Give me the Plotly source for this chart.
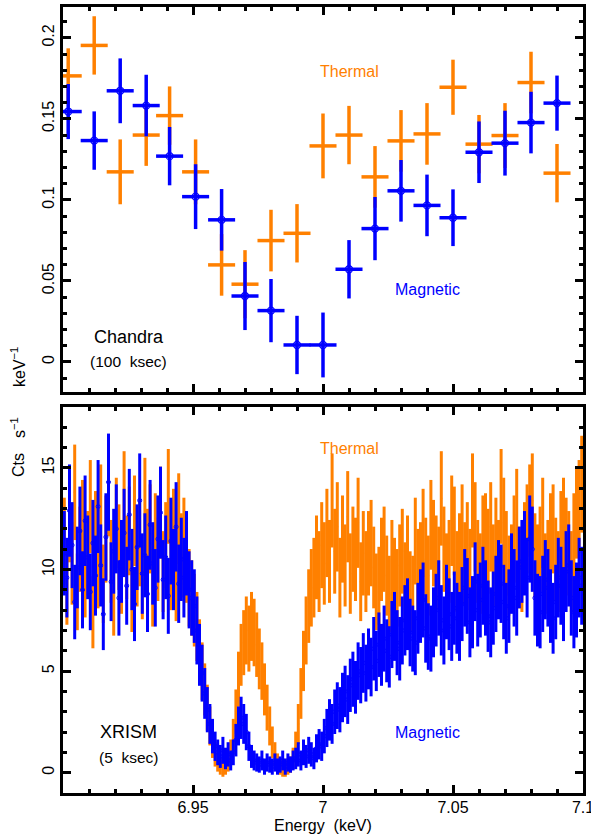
import numpy as np
import plotly.graph_objects as go

ORANGE = "#FF8000"
BLUE = "#0000FF"
FONT = "Liberation Sans, Arial, Helvetica, sans-serif"

# ---------------- Chandra (100 ksec) ----------------
chandra_energy_keV = [6.902, 6.912, 6.922, 6.932, 6.941, 6.951, 6.961, 6.970, 6.980, 6.990,
                      7.000, 7.010, 7.020, 7.030, 7.040, 7.050, 7.060, 7.070, 7.080, 7.090]
chandra_halfwidth_keV = 0.0052
chandra_thermal = [0.1765, 0.1953, 0.1173, 0.1400, 0.1520, 0.1173, 0.0599, 0.0480, 0.0749, 0.0794,
                   0.1333, 0.1400, 0.1142, 0.1364, 0.1407, 0.1695, 0.1344, 0.1397, 0.1724, 0.1165]
chandra_thermal_err = [0.017, 0.018, 0.020, 0.019, 0.018, 0.020, 0.019, 0.021, 0.019, 0.018,
                       0.020, 0.018, 0.019, 0.019, 0.019, 0.017, 0.018, 0.020, 0.019, 0.018]
chandra_magnetic = [0.1545, 0.1366, 0.1673, 0.1582, 0.1270, 0.1020, 0.0877, 0.0407, 0.0317, 0.0105,
                    0.0105, 0.0572, 0.0823, 0.1056, 0.0966, 0.0890, 0.1294, 0.1350, 0.1477, 0.1597]
chandra_magnetic_err = [0.017, 0.018, 0.020, 0.019, 0.018, 0.020, 0.019, 0.021, 0.0195, 0.018,
                        0.020, 0.018, 0.0195, 0.019, 0.019, 0.0175, 0.019, 0.020, 0.019, 0.017]

# ---------------- XRISM (5 ksec), 1 eV channels from 6.900 keV ----------------
xrism_start_keV = 6.900
xrism_bin_keV = 0.001
xrism_counts_per_rate = 2.5   # counts per (cts/s/keV) in one plotted channel
xrism_thermal = [
    11.4, 9.2, 12.6, 10.3, 13.8, 8.9, 11.0, 12.2, 9.6, 10.8,
    13.1, 7.9, 11.7, 10.1, 12.9, 9.3, 11.5, 14.0, 10.4, 8.6,
    12.3, 11.1, 9.8, 13.5, 10.6, 11.9, 8.8, 12.4, 10.2, 11.3,
    9.5, 13.2, 10.9, 12.0, 9.1, 11.6, 10.5, 12.8, 9.9, 11.2,
    13.6, 10.0, 11.8, 9.4, 12.5, 10.7, 11.4,
    10.4, 9.1, 8.6, 8.0, 7.2, 6.0, 5.0, 4.1, 3.2, 2.3, 1.5, 0.9, 0.5,
    0.3, 0.2, 0.3, 0.5,
    1.0, 1.8, 3.0, 4.6,
    5.8, 6.4, 7.0, 6.6, 7.2, 6.9, 6.3, 5.6,
    5.0, 4.1, 3.2, 2.3, 1.5,
    0.9, 0.5, 0.3, 0.2, 0.2, 0.3, 0.4, 0.7,
    1.3, 2.4, 3.9, 5.5, 7.0, 8.2,
    9.1, 9.6, 10.6, 9.9, 11.2, 10.3,
    11.8, 10.4, 13.4, 10.9, 12.1, 9.6, 11.5, 10.2, 12.6, 9.8, 11.0, 10.5, 12.3, 9.4, 10.8,
    9.9, 10.8, 11.3, 10.1, 8.9, 9.2, 10.5, 11.0, 9.7, 8.8, 10.4, 9.6, 9.1, 10.2, 10.9,
    9.4, 10.6, 9.0, 8.8, 11.4, 10.0, 10.3, 11.8, 10.5, 9.7,
    12.2, 11.3, 10.6, 10.1, 13.5, 11.0, 9.8, 10.4, 12.4, 11.9, 9.9, 10.7, 12.0, 10.3, 11.2,
    10.0, 13.4, 12.1, 10.4, 9.8, 11.5, 11.6, 10.9, 12.1, 10.2,
    11.4, 10.4, 13.6, 12.3, 10.8, 9.7, 10.2, 11.5, 12.7, 10.1, 9.9, 11.2, 12.0, 12.9, 13.4,
    10.7, 10.2, 11.0, 12.3, 9.8, 10.4, 11.6, 12.0, 10.5, 9.9, 11.7, 12.3, 11.4, 10.8, 9.9,
    11.6, 12.8, 13.1, 14.2,
]
xrism_magnetic = [
    10.8, 9.6, 12.9, 11.2, 8.4, 10.1, 11.9, 9.0, 12.4, 10.6,
    8.9, 11.3, 9.7, 13.1, 10.2, 7.8, 11.6, 14.3, 9.4, 10.9,
    12.0, 8.6, 10.4, 11.8, 9.2, 12.7, 10.0, 8.3, 11.1, 13.4,
    9.8, 10.7, 8.8, 12.2, 10.3, 9.1, 11.5, 12.8, 9.5, 10.6,
    8.7, 11.4, 10.0, 12.1, 9.3,
    10.5, 9.6, 10.8, 9.0, 8.6, 8.2, 7.0, 5.8, 4.9, 3.9, 3.1, 2.4, 1.8,
    1.3, 1.0, 0.8, 1.1, 0.7, 0.9, 0.6, 1.0,
    1.6, 2.3, 2.7, 2.4, 2.0, 1.3,
    0.8, 0.6, 0.5, 0.4, 0.6, 0.3, 0.5, 0.4, 0.3, 0.5, 0.3, 0.4, 0.6, 0.3, 0.5, 0.4, 0.6,
    0.7, 0.9, 0.6, 1.0, 0.8, 1.1, 0.9, 0.7, 1.2, 1.4, 1.3, 1.8,
    2.2, 2.6, 2.4, 3.0, 3.3, 3.1, 3.7, 4.0, 3.6, 4.3,
    4.6, 4.2, 5.0, 4.8, 5.4, 4.9, 5.6, 5.2, 6.1, 5.5, 6.3, 5.8, 6.6, 6.0, 5.7,
    6.8, 7.2, 6.4, 6.1, 7.0, 7.5, 7.8, 6.9, 6.6, 6.4, 7.6, 8.2, 8.5, 7.1, 6.7,
    6.6, 7.4, 8.0, 8.6, 7.5, 7.0, 8.4, 7.8, 7.2, 8.1,
    7.6, 7.2, 8.3, 9.1, 8.7, 7.4, 7.9, 9.4, 8.0, 8.5, 9.2, 8.6, 7.7, 7.4, 8.1,
    8.8, 9.5, 9.3, 8.4, 7.6, 8.2, 9.8, 9.1, 8.6, 10.1,
    10.4, 10.8, 9.6, 11.5, 11.0, 8.6, 8.0, 7.9, 8.8, 9.5, 9.1, 8.2, 7.6, 8.4, 9.6,
    9.2, 8.3, 9.9, 10.2, 8.6, 7.9, 8.5, 9.6, 9.2,
]

x_ticks = [6.9, 6.95, 7.0, 7.05, 7.1]
x_ticktext = ["", "6.95", "7", "7.05", "7.1"]


def channel_centres(n):
    return [round(xrism_start_keV + (k + 0.5) * xrism_bin_keV, 4) for k in range(n)]


def poisson_err(rate):
    cts = np.asarray(rate) * xrism_counts_per_rate
    return np.sqrt(np.maximum(cts, 1.0)) / xrism_counts_per_rate


fig = go.Figure()

# Chandra panel
fig.add_trace(go.Scatter(
    x=chandra_energy_keV, y=chandra_thermal, mode="markers",
    marker=dict(size=2, color=ORANGE),
    error_y=dict(type="data", array=chandra_thermal_err, color=ORANGE, thickness=3.5, width=0),
    error_x=dict(type="constant", value=chandra_halfwidth_keV, color=ORANGE, thickness=3.5, width=0),
    xaxis="x", yaxis="y", showlegend=False, hoverinfo="skip"))
fig.add_trace(go.Scatter(
    x=chandra_energy_keV, y=chandra_magnetic, mode="markers",
    marker=dict(size=7, color=BLUE, symbol="circle-open", line=dict(width=1.3, color=BLUE)),
    error_y=dict(type="data", array=chandra_magnetic_err, color=BLUE, thickness=3.5, width=0),
    error_x=dict(type="constant", value=chandra_halfwidth_keV, color=BLUE, thickness=3.5, width=0),
    xaxis="x", yaxis="y", showlegend=False, hoverinfo="skip"))

# XRISM panel
fig.add_trace(go.Scatter(
    x=channel_centres(len(xrism_thermal)), y=xrism_thermal, mode="markers",
    marker=dict(size=2, color=ORANGE),
    error_y=dict(type="data", array=poisson_err(xrism_thermal), color=ORANGE, thickness=3, width=0),
    xaxis="x2", yaxis="y2", showlegend=False, hoverinfo="skip"))
fig.add_trace(go.Scatter(
    x=channel_centres(len(xrism_magnetic)), y=xrism_magnetic, mode="markers",
    marker=dict(size=4, color=BLUE, symbol="circle-open", line=dict(width=1, color=BLUE)),
    error_y=dict(type="data", array=poisson_err(xrism_magnetic), color=BLUE, thickness=3, width=0),
    xaxis="x2", yaxis="y2", showlegend=False, hoverinfo="skip"))

axis_common = dict(
    showline=True, linewidth=3, linecolor="black", mirror="ticks",
    ticks="inside", ticklen=8, tickwidth=2.5, tickcolor="black",
    showgrid=False, zeroline=False, automargin=False, ticklabeloverflow="allow",
    tickfont=dict(family=FONT, size=16, color="black"),
)
minor_common = dict(ticks="inside", ticklen=4, tickwidth=2.5, tickcolor="black", showgrid=False)

fig.update_layout(
    width=591, height=835,
    margin=dict(l=63, r=8, t=7, b=42, autoexpand=False),
    paper_bgcolor="white", plot_bgcolor="white",
    font=dict(family=FONT, size=16, color="black"),
    xaxis=dict(domain=[0, 1], anchor="y", range=[6.9, 7.1], tickvals=x_ticks,
               showticklabels=False, minor=dict(dtick=0.01, tick0=6.9, **minor_common),
               **axis_common),
    yaxis=dict(domain=[0.5102, 1], anchor="x", range=[-0.0185, 0.219], tick0=0, dtick=0.05,
               tickangle=-90, ticklabelstandoff=0,
               minor=dict(dtick=0.01, tick0=0, **minor_common), **axis_common),
    xaxis2=dict(domain=[0, 1], anchor="y2", range=[6.9, 7.1], tickvals=x_ticks, ticktext=x_ticktext,
                ticklabelstandoff=-2,
                minor=dict(dtick=0.01, tick0=6.9, **minor_common), **axis_common),
    yaxis2=dict(domain=[0, 0.4911], anchor="x2", range=[-1, 18], tick0=0, dtick=5,
                tickangle=-90, ticklabelstandoff=0,
                minor=dict(dtick=1, tick0=0, **minor_common), **axis_common),
)

ann = [
    dict(text="Thermal", x=7.010, y=0.179, xref="x", yref="y", color=ORANGE, size=16),
    dict(text="Magnetic", x=7.040, y=0.045, xref="x", yref="y", color=BLUE, size=16),
    dict(text="Chandra", x=6.9252, y=0.0154, xref="x", yref="y", color="black", size=18),
    dict(text="(100  ksec)", x=6.9252, y=0.0, xref="x", yref="y", color="black", size=15.5),
    dict(text="Thermal", x=7.010, y=15.98, xref="x2", yref="y2", color=ORANGE, size=16),
    dict(text="Magnetic", x=7.040, y=1.96, xref="x2", yref="y2", color=BLUE, size=16),
    dict(text="XRISM", x=6.925, y=2.0, xref="x2", yref="y2", color="black", size=18),
    dict(text="(5  ksec)", x=6.925, y=0.74, xref="x2", yref="y2", color="black", size=15.5),
]
for a in ann:
    fig.add_annotation(text=a["text"].replace("  ", "\u00a0\u00a0"), x=a["x"], y=a["y"],
                       xref=a["xref"], yref=a["yref"], showarrow=False,
                       font=dict(family=FONT, size=a["size"], color=a["color"]),
                       xanchor="center", yanchor="middle")

# x-axis title
fig.add_annotation(text="Energy\u00a0\u00a0(keV)", x=7.0, y=-(826 - 793) / 786, xref="x2", yref="paper",
                   showarrow=False, font=dict(family=FONT, size=16, color="black"),
                   xanchor="center", yanchor="middle")

# y-axis title pieces (rotated), placed in paper coordinates
for txt, ypix in [("Cts", 465), ("s<sup>−1</sup>", 428), ("keV<sup>−1</sup>", 367)]:
    fig.add_annotation(text=txt, textangle=-90, x=(18 - 63) / 520, y=1 - (ypix - 7) / 786,
                       xref="paper", yref="paper", showarrow=False,
                       font=dict(family=FONT, size=16, color="black"),
                       xanchor="center", yanchor="middle")

fig.write_html("out.html", config={"displayModeBar": False},
               post_script="document.body.style.margin='0px';")
